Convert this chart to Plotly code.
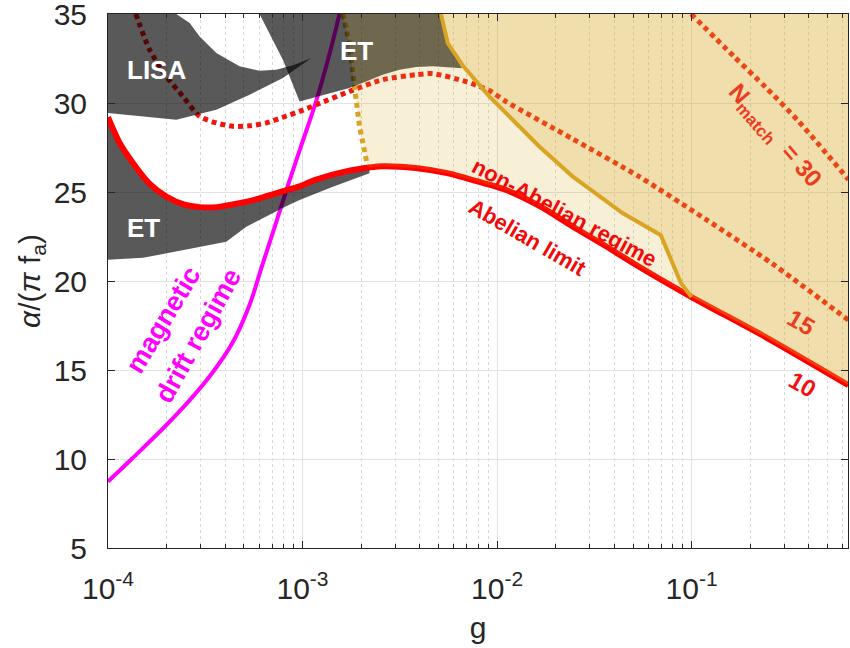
import plotly.graph_objects as go
import numpy as np

# ---------------- data ----------------
# Abelian limit (thick red solid)
abel_g = [1.00e-4, 1.148e-4, 1.349e-4, 1.622e-4, 1.995e-4, 2.455e-4, 2.951e-4, 3.631e-4,
          4.365e-4, 5.370e-4, 6.457e-4, 7.943e-4, 9.550e-4, 1.175e-3, 1.738e-3, 2.208e-3,
          2.570e-3, 3.802e-3, 5.623e-3, 8.511e-3, 1.122e-2, 1.660e-2, 2.455e-2, 3.631e-2,
          5.370e-2, 0.100, 0.240, 0.640]
abel_a = [29.2, 27.75, 26.6, 25.5, 24.75, 24.3, 24.15, 24.15,
          24.3, 24.5, 24.75, 25.05, 25.3, 25.7, 26.2, 26.38,
          26.45, 26.35, 26.05, 25.5, 25.1, 24.2, 23.05, 21.95,
          20.8, 19.1, 16.85, 14.15]

# N_match = 15 (red dotted)
n15_g = [1.39e-4, 1.637e-4, 1.995e-4, 2.427e-4, 2.958e-4, 3.606e-4, 4.385e-4, 5.346e-4,
         6.516e-4, 7.925e-4, 9.66e-4, 1.175e-3, 1.742e-3, 2.582e-3, 3.837e-3, 4.667e-3,
         6.934e-3, 9.12e-3, 1.117e-2, 2.438e-2, 5.383e-2, 0.1189, 0.2594, 0.640]
n15_a = [35.0, 32.99, 31.49, 30.37, 29.25, 28.88, 28.69, 28.72,
         28.88, 29.2, 29.53, 29.9, 30.65, 31.31, 31.59, 31.65,
         31.2, 30.7, 30.07, 27.99, 25.86, 23.45, 20.98, 17.8]

# N_match = 30 (red dotted)
n30_g = [0.0995, 0.1656, 0.2415, 0.3565, 0.640]
n30_a = [35.0, 32.6, 30.86, 28.95, 25.7]

# magnetic drift regime boundary (magenta)
mag_g = [1.00e-4, 1.324e-4, 2.203e-4, 3.327e-4, 4.365e-4, 5.346e-4, 6.152e-4, 7.178e-4,
         8.375e-4, 9.886e-4, 1.167e-3, 1.361e-3, 1.549e-3]
mag_a = [8.74, 10.0, 12.39, 14.64, 16.53, 18.67, 20.75, 23.0,
         25.3, 27.66, 30.0, 32.55, 35.0]

# gold dotted boundary (left edge of non-Abelian regime)
golddot_g = [1.611e-3, 1.742e-3, 1.849e-3, 1.963e-3, 2.163e-3]
golddot_a = [35.0, 33.37, 30.93, 28.69, 26.4]

# gold solid boundary
gold_g = [5.152e-3, 5.572e-3, 6.714e-3, 9.12e-3, 1.648e-2, 2.443e-2, 4.416e-2, 6.95e-2, 8.81e-2, 0.100]
gold_a = [35.0, 33.37, 32.06, 30.37, 27.56, 25.88, 23.82, 22.57, 19.89, 19.1]

# LISA sensitivity region (polygon)
lisa_g = [1.0e-4, 2.244e-4, 2.630e-4, 2.958e-4, 3.606e-4, 4.742e-4, 6.012e-4, 7.328e-4,
          9.099e-4, 1.109e-3, 7.925e-4, 5.346e-4, 3.606e-4, 2.244e-4, 1.0e-4]
lisa_a = [35.0, 35.0, 34.49, 33.74, 32.81, 32.06, 31.81, 31.87,
          32.15, 32.53, 31.40, 30.47, 29.62, 29.06, 29.44]

# ET region (upper polygon)
etu_g = [6.012e-4, 7.925e-4, 9.66e-4, 1.175e-3, 1.432e-3, 1.742e-3, 2.123e-3, 2.582e-3,
         3.148e-3, 3.837e-3, 4.667e-3, 5.689e-3, 6.607e-3, 5.572e-3, 5.152e-3]
etu_a = [35.0, 32.43, 30.09, 30.34, 30.56, 30.84, 31.21, 31.59,
         31.87, 32.02, 32.06, 32.02, 31.95, 33.37, 35.0]

# ET region (lower band) lower edge; its upper edge follows the Abelian limit
etl_g = [1.0e-4, 1.514e-4, 4.055e-4, 5.14e-4, 8.24e-4, 9.66e-4, 1.432e-3, 2.208e-3]
etl_a = [21.2, 21.3, 22.2, 23.05, 24.2, 24.55, 25.3, 26.05]

x_max = 0.637
major_ticks = [1e-4, 1e-3, 1e-2, 1e-1]
major_text = ['10<sup>-4</sup>', '10<sup>-3</sup>', '10<sup>-2</sup>', '10<sup>-1</sup>']
y_ticks = [5, 10, 15, 20, 25, 30, 35]

# ---------------- figure ----------------
RED = '#FF0000'
DOTRED = '#F2140F'
MAGENTA = '#FF00FF'
GOLD = '#D9A324'
GRAY = 'rgba(0,0,0,0.65)'
FONT = 'Liberation Sans, Arial, Helvetica, sans-serif'
AX = '#262626'

fig = go.Figure()


def line(x, y, color, width, dash='solid', shape='spline', smoothing=0.7):
    fig.add_trace(go.Scatter(x=x, y=y, mode='lines',
                             line=dict(color=color, width=width, dash=dash, shape=shape, smoothing=smoothing),
                             hoverinfo='skip', showlegend=False))


def poly(x, y, color):
    fig.add_trace(go.Scatter(x=x, y=y, mode='lines', fill='toself', fillcolor=color,
                             line=dict(width=0, color='rgba(0,0,0,0)'),
                             hoverinfo='skip', showlegend=False))


# lines that sit beneath the shaded regions
line(mag_g, mag_a, MAGENTA, 4, smoothing=1.1)
line(n15_g, n15_a, DOTRED, 5, dash='5px,4px')
line(n30_g, n30_a, DOTRED, 5, dash='5px,4px')
line(golddot_g, golddot_a, GOLD, 5, dash='5px,4px', shape='linear')

# detector regions (semi-transparent gray)
poly(lisa_g, lisa_a, GRAY)
poly(etu_g, etu_a, GRAY)
up_g = [g for g in abel_g if g <= etl_g[-1]]
up_a = abel_a[:len(up_g)]
poly(up_g + etl_g[::-1], up_a + etl_a[::-1], GRAY)

# Abelian limit above the gray regions
line(abel_g, abel_a, RED, 6)

# non-Abelian region between the gold boundaries (light)
mid_idx = [i for i, g in enumerate(abel_g) if golddot_g[-1] < g < gold_g[-1]]
light_g = golddot_g + [abel_g[i] for i in mid_idx] + gold_g[::-1]
light_a = golddot_a + [abel_a[i] for i in mid_idx] + gold_a[::-1]
poly(light_g, light_a, 'rgba(218,165,32,0.18)')

# darker tan region right of the gold line
right_idx = [i for i, g in enumerate(abel_g) if g > gold_g[-1]]
tan_g = gold_g + [abel_g[i] for i in right_idx] + [x_max * 1.01, x_max * 1.01]
tan_a = gold_a + [abel_a[i] for i in right_idx] + [abel_a[-1], 35.0]
poly(tan_g, tan_a, 'rgba(218,165,32,0.37)')

line(gold_g, gold_a, GOLD, 4, shape='linear')

# ---------------- annotations ----------------
def label(text, lg, a, color, size, angle=0):
    fig.add_annotation(x=lg, y=a, xref='x', yref='y', text='<b>' + text + '</b>', showarrow=False,
                       textangle=angle, font=dict(family=FONT, size=size, color=color),
                       xanchor='center', yanchor='middle')


label('LISA', -3.752, 31.87, 'white', 26)
label('ET', -2.724, 32.90, 'white', 26)
label('ET', -3.820, 22.99, 'white', 26)
label('magnetic', -3.717, 17.82, MAGENTA, 27, -59)
label('drift regime', -3.533, 16.94, MAGENTA, 27, -61)
label('non-Abelian regime', -1.654, 23.87, '#F00A0A', 22, 28)
label('Abelian limit', -1.843, 22.46, '#F00A0A', 22, 30)
label('N<sub>match</sub>  = 30', -0.575, 28.1, '#EC3C1E', 24, 49)
label('15', -0.435, 17.69, '#EC3C1E', 24, 30)
label('10', -0.430, 14.17, '#F01414', 24, 30)

minor_vals = [m * d for d in [1e-4, 1e-3, 1e-2, 1e-1] for m in range(2, 10)]

fig.update_layout(
    width=850, height=648,
    margin=dict(l=108, r=2, t=14, b=100),
    paper_bgcolor='white', plot_bgcolor='white',
    font=dict(family=FONT, color=AX),
    showlegend=False,
    xaxis=dict(type='log', range=[-4, np.log10(x_max)], automargin=False,
               tickmode='array', tickvals=major_ticks, ticktext=major_text,
               ticks='inside', ticklen=7, tickcolor=AX, tickwidth=1,
               showline=True, linecolor=AX, linewidth=1, mirror='ticks',
               showgrid=True, gridcolor='#e2e2e2', gridwidth=1, zeroline=False,
               tickfont=dict(size=30, color=AX),
               ticklabelstandoff=14, ticklabeloverflow='allow',
               minor=dict(tickmode='array', tickvals=minor_vals, ticks='inside', ticklen=4,
                          tickcolor=AX, showgrid=True, griddash='dot',
                          gridcolor='#d8d8d8', gridwidth=1),
               title=dict(text='g', font=dict(size=30, color=AX), standoff=12)),
    yaxis=dict(range=[5, 35], tickmode='array', tickvals=y_ticks, automargin=False,
               ticks='inside', ticklen=7, tickcolor=AX, tickwidth=1,
               showline=True, linecolor=AX, linewidth=1, mirror='ticks',
               showgrid=True, gridcolor='#e2e2e2', gridwidth=1, zeroline=False,
               tickfont=dict(size=30, color=AX),
               ticklabelstandoff=14, ticklabeloverflow='allow',
               title=dict(text='<i>α</i>/(<i>π</i> f<sub>a</sub>)', font=dict(size=30, color=AX),
                          standoff=4)),
)

fig.write_html('out.html', config={'displayModeBar': False},
               post_script="document.body.style.margin='0';document.body.style.padding='0';")
